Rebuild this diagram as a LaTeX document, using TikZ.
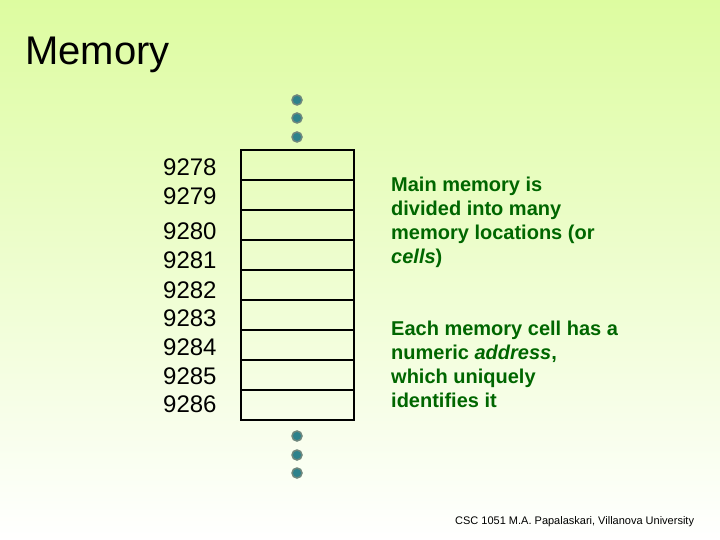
\documentclass[tikz,border=0pt]{standalone}
\usepackage{fontspec}
\setmainfont{Liberation Sans}
\usetikzlibrary{positioning}
\definecolor{slidegreen}{RGB}{221,252,160}
\definecolor{notegreen}{RGB}{0,102,0}
\definecolor{dotteal}{RGB}{45,130,140}
\definecolor{dotrim}{RGB}{110,135,125}

\begin{document}
\begin{tikzpicture}[x=1pt, y=-1pt,
  cell/.style={draw=black, line width=2.2pt, minimum width=113pt, minimum height=30pt, inner sep=0pt, outer sep=0pt},
  addr/.style={font=\fontsize{24}{24}\selectfont, anchor=west, inner sep=0pt},
  dot/.style={circle, fill=dotteal, draw=dotrim, line width=1.5pt, minimum size=10pt, inner sep=0pt},
  note/.style={font=\bfseries\fontsize{20}{24}\selectfont, text=notegreen, align=left, anchor=base west, inner sep=0pt}
  ]
  % slide background
  \shade[top color=slidegreen, bottom color=white] (0,0) rectangle (720,540);
  \node[font=\fontsize{40}{40}\selectfont, anchor=base west, inner sep=0pt] (title) at (25,65) {Memory};

  % memory cells
  \foreach \i in {0,...,8}
    \node[cell] (c\i) at (297.5,165+30*\i) {};

  % addresses
  \node[addr] (a0) at (163,167) {9278};
  \node[addr] (a1) at (163,196) {9279};
  \node[addr] (a2) at (163,231) {9280};
  \node[addr] (a3) at (163,260) {9281};
  \node[addr] (a4) at (163,290) {9282};
  \node[addr] (a5) at (163,318) {9283};
  \node[addr] (a6) at (163,347) {9284};
  \node[addr] (a7) at (163,376) {9285};
  \node[addr] (a8) at (163,404) {9286};

  % more cells above and below
  \node[dot] (u1) at (297,100) {};
  \node[dot] (u2) at (297,118) {};
  \node[dot] (u3) at (297,137) {};
  \node[dot] (d1) at (297,436) {};
  \node[dot] (d2) at (297,455) {};
  \node[dot] (d3) at (297,473) {};

  % text boxes (base = last line)
  \node[note] (n1) at (391,263) {Main memory is\\divided into many\\memory locations (or\\\textit{cells})};
  \node[note] (n2) at (391,407) {Each memory cell has a\\numeric \textit{address},\\which uniquely\\identifies it};

  \node[font=\fontsize{11}{11}\selectfont, anchor=base west, inner sep=0pt] (foot) at (455,524) {CSC 1051 M.A. Papalaskari, Villanova University};
\end{tikzpicture}
\end{document}
